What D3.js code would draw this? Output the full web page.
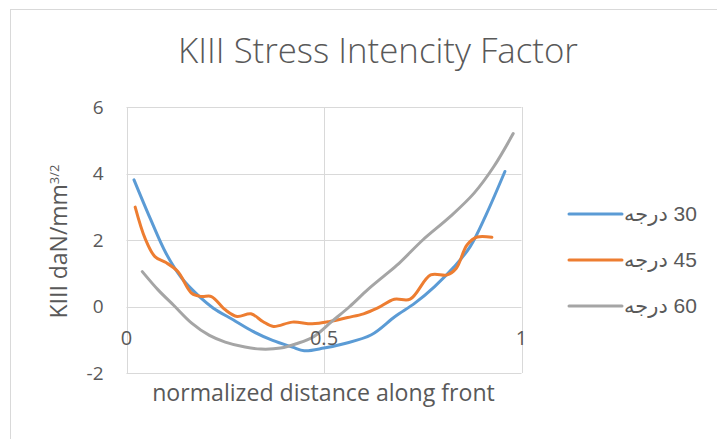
<!DOCTYPE html>
<html><head><meta charset="utf-8">
<script src="https://cdn.jsdelivr.net/npm/d3@7"></script>
<style>body{margin:0;background:#fff}svg{display:block}</style>
</head><body>
<svg id="c" width="717" height="439"></svg>
<script>
const titleText = "KIII Stress Intencity Factor";
const xTitle = "normalized distance along front";
const yTitleMain = "KIII daN/mm";
const yTitleSup = "3/2";
const xTicks = [0, 0.5, 1];
const yTicks = [-2, 0, 2, 4, 6];
const seriesNames = ["30 درجه", "45 درجه", "60 درجه"];
const seriesColors = ["#5B9BD5", "#ED7D31", "#A5A5A5"];

const s30x = [0.019,0.06,0.10,0.14,0.18,0.22,0.27,0.32,0.37,0.42,0.45,0.50,0.55,0.62,0.68,0.73,0.78,0.83,0.87,0.91,0.958];
const s30y = [3.81,2.65,1.60,0.85,0.35,-0.05,-0.40,-0.75,-1.02,-1.22,-1.33,-1.25,-1.12,-0.85,-0.30,0.10,0.60,1.20,1.80,2.75,4.06];

const s45x = [0.022,0.047,0.072,0.10,0.13,0.165,0.19,0.215,0.25,0.28,0.315,0.345,0.372,0.42,0.47,0.515,0.56,0.60,0.635,0.678,0.718,0.77,0.812,0.835,0.862,0.888,0.925];
const s45y = [2.99,2.05,1.50,1.32,1.05,0.40,0.30,0.30,-0.10,-0.30,-0.22,-0.45,-0.60,-0.47,-0.52,-0.45,-0.33,-0.22,-0.05,0.22,0.22,0.95,0.95,1.15,1.85,2.09,2.08];

const s60x = [0.04,0.08,0.12,0.165,0.21,0.25,0.30,0.34,0.39,0.43,0.475,0.52,0.565,0.61,0.65,0.69,0.75,0.82,0.88,0.93,0.979];
const s60y = [1.05,0.50,0.03,-0.50,-0.87,-1.07,-1.22,-1.28,-1.25,-1.12,-0.90,-0.45,0.0,0.50,0.90,1.30,2.00,2.71,3.41,4.21,5.20];

const seriesX = [s30x, s45x, s60x];
const seriesY = [s30y, s45y, s60y];

const svg = d3.select("#c");
svg.append("rect").attr("x",10.5).attr("y",9.5).attr("width",730).attr("height",450)
  .attr("fill","#fff").attr("stroke","#D9D9D9").attr("stroke-width",1);

const x = d3.scaleLinear().domain([0,1]).range([126.5,521.5]);
const y = d3.scaleLinear().domain([-2,6]).range([373,107]);

const grid = svg.append("g");
grid.selectAll(".hg").data(yTicks).join("line")
  .attr("x1",x(0)).attr("x2",x(1)).attr("y1",d=>Math.round(y(d))+0.5).attr("y2",d=>Math.round(y(d))+0.5)
  .attr("stroke","#D9D9D9").attr("stroke-width",1);
grid.selectAll(".vg").data(xTicks).join("line")
  .attr("y1",y(-2)).attr("y2",y(6)).attr("x1",d=>Math.round(x(d))+0.5).attr("x2",d=>Math.round(x(d))+0.5)
  .attr("stroke","#D9D9D9").attr("stroke-width",1);

const line = d3.line().x(d=>x(d[0])).y(d=>y(d[1])).curve(d3.curveCatmullRom.alpha(0.5));
seriesX.forEach((xs,i)=>{
  const pts = xs.map((v,j)=>[v, seriesY[i][j]]);
  svg.append("path").attr("d",line(pts)).attr("fill","none")
    .attr("stroke",seriesColors[i]).attr("stroke-width",3).attr("stroke-linecap","round").attr("stroke-linejoin","round");
});

function fit(sel, target){
  const w = sel.node().getComputedTextLength();
  const fs = parseFloat(sel.attr("font-size"));
  sel.attr("font-size", fs*target/w);
}

const font = "'Open Sans', 'Liberation Sans', sans-serif";
// y tick labels
svg.append("g").selectAll("text").data(yTicks).join("text")
  .attr("x",103.5).attr("y",d=>y(d)).attr("dy","0.36em").attr("text-anchor","end")
  .attr("font-family",font).attr("font-size",19).attr("fill","#595959").text(d=>d);
// x tick labels
svg.append("g").selectAll("text").data(xTicks).join("text")
  .attr("x",d=>x(d)).attr("y",345).attr("text-anchor","middle")
  .attr("font-family",font).attr("font-size",20).attr("fill","#595959").text(d=>d);

// title
const t = svg.append("text").attr("x",378).attr("y",63).attr("text-anchor","middle")
  .attr("font-family",font).attr("font-weight",300).attr("font-size",28).attr("fill","#595959").text(titleText);
fit(t, 400);

// x title
const xt = svg.append("text").attr("x",323.5).attr("y",401).attr("text-anchor","middle")
  .attr("font-family",font).attr("font-size",20).attr("fill","#595959").text(xTitle);
fit(xt, 343);

// y title
const yt = svg.append("text").attr("transform","translate(66.5,241.5) rotate(-90)").attr("text-anchor","middle")
  .attr("font-family",font).attr("font-size",20).attr("fill","#595959");
yt.append("tspan").text(yTitleMain);
yt.append("tspan").attr("font-size",13).attr("dy",-8).text(yTitleSup);
fit(yt, 157);

// legend
const legY = [214, 260, 306];
const leg = svg.append("g");
seriesNames.forEach((n,i)=>{
  leg.append("line").attr("x1",569).attr("x2",622).attr("y1",legY[i]).attr("y2",legY[i])
    .attr("stroke",seriesColors[i]).attr("stroke-width",3).attr("stroke-linecap","round");
  leg.append("text").attr("x",624).attr("y",legY[i]).attr("dy","0.35em")
    .attr("font-family","'Liberation Sans', 'DejaVu Sans', sans-serif").attr("font-size",21).attr("fill","#595959")
    .text("\u202B" + n + "\u202C");
});
</script>
</body></html>
